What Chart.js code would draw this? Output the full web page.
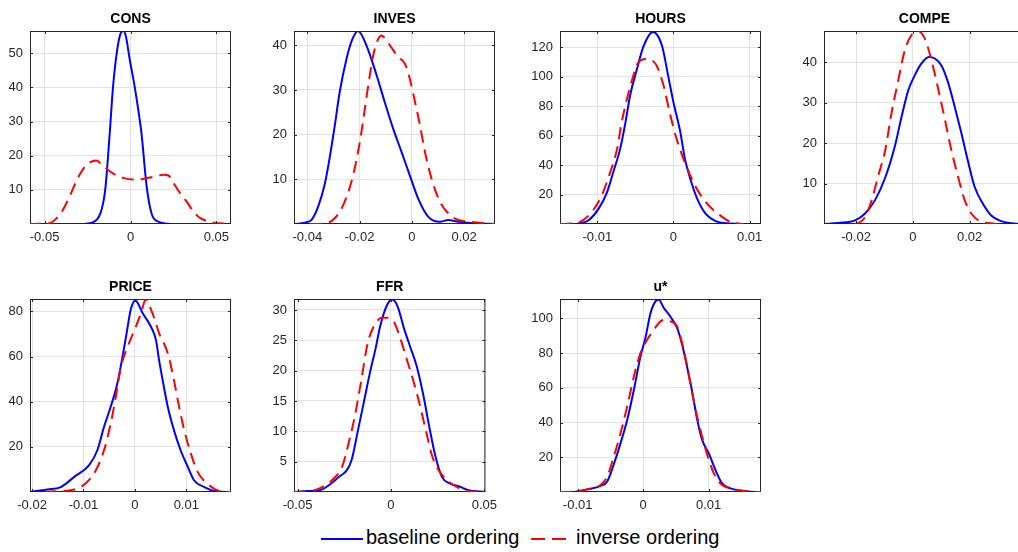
<!DOCTYPE html>
<html>
<head>
<meta charset="utf-8">
<script src="https://cdn.jsdelivr.net/npm/chart.js@4.4.1/dist/chart.umd.min.js"></script>
<style>
html,body{margin:0;padding:0;background:#fff;overflow:hidden;width:1018px;height:552px;position:relative;font-family:"Liberation Sans",Arial,Helvetica,sans-serif;}
.panel{position:absolute;}
.panel canvas{display:block;}
.lg-line{position:absolute;height:2px;}
.lg-text{position:absolute;font-size:20px;line-height:20px;color:#000;white-space:nowrap;}
</style>
</head>
<body>
<div id="legend">
  <div class="lg-line" style="left:321px;top:538px;width:42px;background:#0000ff;"></div>
  <span class="lg-text" id="lgBase" style="left:366px;top:527px;"></span>
  <div class="lg-line" style="left:531px;top:538px;width:14px;background:#ff0000;"></div>
  <div class="lg-line" style="left:552px;top:538px;width:14px;background:#ff0000;"></div>
  <span class="lg-text" id="lgInv" style="left:576px;top:527px;"></span>
</div>
<script>
// ---------------- DATA ----------------
const seriesNames = ['baseline ordering', 'inverse ordering'];
const titles = ['CONS', 'INVES', 'HOURS', 'COMPE', 'PRICE', 'FFR', 'u*'];

// CONS
const consBaseX = [-0.0277,-0.0219,-0.0180,-0.0156,-0.0145,-0.0121,-0.0102,-0.0078,-0.0059,-0.0043,-0.0027,-0.0004,0.0025,0.0045,0.0064,0.0094,0.0123,0.0162,0.0240];
const consBaseY = [0,0.5,2.5,7,11,26.5,40,50.8,55.6,56.5,55,48,40,33.5,26.5,11,3,0.7,0];
const consInvX = [-0.0592,-0.0473,-0.0434,-0.0395,-0.0355,-0.0316,-0.0277,-0.0238,-0.0199,-0.0160,-0.0102,-0.0043,0.0016,0.0074,0.0133,0.0191,0.0221,0.0250,0.0289,0.0328,0.0367,0.0406,0.0445,0.0484,0.0592];
const consInvY = [0,0.2,1.5,4,8,12.5,16,18,18.6,17,14.8,13.5,13,13.2,13.8,14.4,14.2,12,9,6.5,3.6,1.7,0.9,0.4,0];

// INVES
const invesBaseX = [-0.0450,-0.0409,-0.0383,-0.0358,-0.0333,-0.0314,-0.0295,-0.0276,-0.0250,-0.0228,-0.0206,-0.0174,-0.0135,-0.0104,-0.0072,-0.0040,-0.0008,0.0024,0.0063,0.0107,0.0139,0.0178,0.0222,0.0318];
const invesBaseY = [0,0.3,1,4,9,15,22,29.6,37,41.3,43.2,40,33.3,27.3,21.4,16.2,10.9,5.7,1.6,0.5,0.9,0.5,0.2,0];
const invesInvX = [-0.0390,-0.0340,-0.0295,-0.0257,-0.0225,-0.0199,-0.0180,-0.0161,-0.0148,-0.0132,-0.0116,-0.0100,-0.0084,-0.0053,-0.0027,-0.0008,0.0012,0.0031,0.0050,0.0075,0.0107,0.0146,0.0178,0.0222,0.0270,0.0318];
const invesInvY = [0,0.1,1.3,5,10.9,18.4,25.8,33.3,37.7,41,42.2,41.3,40,37.4,35.9,32.5,27.3,22.1,16.1,10.2,5,2,0.9,0.5,0.2,0];

// HOURS
const hoursBaseX = [-0.0129,-0.0120,-0.0111,-0.0098,-0.0087,-0.0079,-0.0070,-0.0063,-0.0057,-0.0048,-0.0039,-0.0027,-0.0015,-0.0007,0,0.0009,0.0015,0.0022,0.0031,0.0042,0.0057,0.0074,0.0090,0.0115];
const hoursBaseY = [0,0.8,2.7,10.6,21.8,35.3,51,69,87,105,121,130.4,121,100.7,82.6,62.4,44.4,30.9,17.4,7.2,1.6,0.3,0,0];
const hoursInvX = [-0.0149,-0.0135,-0.0122,-0.0107,-0.0094,-0.0083,-0.0074,-0.0068,-0.0061,-0.0054,-0.0046,-0.0035,-0.0028,-0.0022,-0.0013,-0.0004,0.0004,0.0013,0.0022,0.0033,0.0046,0.0061,0.0074,0.0085,0.0092];
const hoursInvY = [0,0.3,1.6,8.3,19.6,35.3,51,69,85,98.4,109.7,112,111,107.4,94,73.6,58,44.4,33,21.8,12.8,6,1.6,0.3,0];

// COMPE
const compeBaseX = [-0.0313,-0.0262,-0.02035,-0.01684,-0.01333,-0.00982,-0.00632,-0.00398,-0.00164,0.0007,0.00304,0.00561,0.00772,0.01006,0.0124,0.01474,0.01708,0.01942,0.02175,0.02468,0.0276,0.03111,0.03462,0.0381,0.0395];
const compeBaseY = [0,0.25,0.9,2.6,5.9,11.3,19.3,26.5,33,36.8,39.7,41.3,40.9,39.2,35,29,22.5,15.5,9.2,5,2.1,0.7,0.2,0,0];
const compeInvX = [-0.02035,-0.0186,-0.01684,-0.0145,-0.01216,-0.00982,-0.00749,-0.00515,-0.00281,-0.00047,0.00187,0.00421,0.00655,0.00889,0.01123,0.01357,0.01591,0.01825,0.02058,0.02351,0.02643,0.02994];
const compeInvY = [0,0.5,1.7,5.9,12,18,27.5,35.5,43,46.7,47.7,45.8,40.5,33.5,26,18.2,11.7,5.9,2.6,0.7,0.25,0];

// PRICE
const priceBaseX = [-0.0204,-0.0196,-0.0170,-0.0144,-0.0118,-0.0089,-0.0073,-0.0060,-0.0047,-0.0034,-0.0024,-0.0016,-0.0008,0.0001,0.0015,0.0031,0.0041,0.0047,0.0054,0.0064,0.0076,0.0089,0.0103,0.0115,0.0135,0.0158,0.0187];
const priceBaseY = [0,0.3,1.1,2.2,6.7,11.9,18.5,28.9,37.8,48.2,60,70.4,80.8,84.8,79.3,73.3,67.4,58.5,49.6,37.8,27.4,18.5,11.1,5.2,2.2,0.3,0];
const priceInvX = [-0.0176,-0.0157,-0.0118,-0.0095,-0.0076,-0.0060,-0.0047,-0.0037,-0.0027,-0.0014,0.0002,0.0012,0.0021,0.0034,0.0047,0.0064,0.0076,0.0086,0.0096,0.0109,0.0122,0.0141,0.0161,0.0187];
const priceInvY = [0,0.3,1.1,4,9.6,18.5,30.4,42.2,55.6,64.4,73.3,79.3,85.2,79.3,70.4,61.5,49.6,37.8,27.4,17,8.9,3.7,0.7,0];

// FFR
const ffrBaseX = [-0.0519,-0.04475,-0.03797,-0.03288,-0.0278,-0.02356,-0.02102,-0.01763,-0.01424,-0.01085,-0.00831,-0.00576,-0.00237,0.00068,0.00356,0.00695,0.01034,0.01373,0.01712,0.02051,0.0239,0.02729,0.03153,0.03661,0.04169,0.0506];
const ffrBaseY = [0,0.15,0.3,1.2,2.5,3.6,5.3,10.2,15.2,20.2,23.5,27.3,30.6,31.7,30.6,27,23.9,20.8,16.3,10.8,5.8,2.5,1.4,0.9,0.3,0];
const ffrInvX = [-0.0519,-0.04305,-0.03627,-0.03034,-0.0261,-0.02271,-0.01932,-0.01593,-0.01254,-0.00915,-0.00492,-0.00153,0.00186,0.00525,0.00864,0.01203,0.01542,0.01881,0.0222,0.02559,0.02983,0.03492,0.04,0.0506];
const ffrInvY = [0,0.15,0.9,2.3,4.2,8,12.5,18.3,24.4,27.3,28.7,28.7,27.9,25.1,21.7,18.3,14.4,10,5.8,3.6,2,0.9,0.2,0];

// u*
const ustarBaseX = [-0.01059,-0.00855,-0.00651,-0.0055,-0.00448,-0.00346,-0.00244,-0.00142,-0.00041,0.00036,0.00112,0.00188,0.00239,0.00316,0.00417,0.00519,0.00595,0.00672,0.00748,0.00824,0.00901,0.01003,0.01104,0.01206,0.01333,0.01486,0.01639,0.01715];
const ustarBaseY = [0,1.5,3.5,6,16,28,41.5,58.8,78,89,103,109.8,110.8,106,101,94.4,85,72,58,42,30,22.3,12.7,5,2.1,0.8,0.2,0];
const ustarInvX = [-0.0127,-0.01008,-0.00804,-0.00651,-0.0055,-0.00448,-0.00346,-0.00244,-0.00142,-0.00041,0.00061,0.00163,0.00265,0.00341,0.00417,0.00519,0.00595,0.00672,0.00748,0.00824,0.00901,0.01003,0.01104,0.01206,0.01333,0.01486,0.018];
const ustarInvY = [0,0.4,2.1,4,8.8,20.4,33.8,49.2,66.5,80,87.7,93.5,98.3,99.2,98.3,95.4,85.8,72.3,57,43.5,31.9,18.5,8.8,4,2.1,0.8,0];

// axis limits and ticks
const xLimits = [[-0.0585,0.0585],[-0.0451,0.0318],[-0.0149,0.0115],[-0.0313,0.0395],[-0.0204,0.0187],[-0.0519,0.0506],[-0.0127,0.018]];
const yLimits = [[0,56.5],[0,43.2],[0,131],[0,47.7],[0,85.5],[0,31.8],[0,111.2]];
const xTickValues = [[-0.05,0,0.05],[-0.04,-0.02,0,0.02],[-0.01,0,0.01],[-0.02,0,0.02],[-0.02,-0.01,0,0.01],[-0.05,0,0.05],[-0.01,0,0.01]];
const xTickLabels = [['-0.05','0','0.05'],['-0.04','-0.02','0','0.02'],['-0.01','0','0.01'],['-0.02','0','0.02'],['-0.02','-0.01','0','0.01'],['-0.05','0','0.05'],['-0.01','0','0.01']];
const yTickValues = [[10,20,30,40,50],[10,20,30,40],[20,40,60,80,100,120],[10,20,30,40],[20,40,60,80],[5,10,15,20,25,30],[20,40,60,80,100]];

const baseXs = [consBaseX, invesBaseX, hoursBaseX, compeBaseX, priceBaseX, ffrBaseX, ustarBaseX];
const baseYs = [consBaseY, invesBaseY, hoursBaseY, compeBaseY, priceBaseY, ffrBaseY, ustarBaseY];
const invXs = [consInvX, invesInvX, hoursInvX, compeInvX, priceInvX, ffrInvX, ustarInvX];
const invYs = [consInvY, invesInvY, hoursInvY, compeInvY, priceInvY, ffrInvY, ustarInvY];

// ---------------- LAYOUT ----------------
const boxPos = [[30,31],[294,31],[560,31],[824,31],[30,299],[294,299],[560,299]];
const BOX_W = 201, BOX_H = 193;
const PAD_L = 50, PAD_T = 30, PAD_R = 8, PAD_B = 26;
const FONT = '"Liberation Sans", Arial, Helvetica, sans-serif';
const AXIS_COLOR = '#262626';

document.getElementById('lgBase').textContent = seriesNames[0];
document.getElementById('lgInv').textContent = seriesNames[1];

Chart.defaults.font.family = FONT;

const deco = {
  id: 'deco',
  beforeDatasetsDraw(chart) {
    const {ctx, chartArea: a} = chart;
    ctx.save();
    ctx.strokeStyle = AXIS_COLOR;
    ctx.lineWidth = 1;
    ctx.strokeRect(a.left + 0.5, a.top + 0.5, a.right - a.left - 1, a.bottom - a.top - 1);
    ctx.restore();
  },
  afterDraw(chart, args, opts) {
    const {ctx, chartArea: a} = chart;
    const xs = chart.scales.x, ys = chart.scales.y;
    ctx.save();
    ctx.strokeStyle = AXIS_COLOR;
    ctx.lineWidth = 1;
    ctx.beginPath();
    xs.ticks.forEach(t => {
      const p = Math.round(xs.getPixelForValue(t.value)) + 0.5;
      ctx.moveTo(p, a.bottom); ctx.lineTo(p, a.bottom - 3);
      ctx.moveTo(p, a.top); ctx.lineTo(p, a.top + 3);
    });
    ys.ticks.forEach(t => {
      const p = Math.round(ys.getPixelForValue(t.value)) + 0.5;
      ctx.moveTo(a.left, p); ctx.lineTo(a.left + 3, p);
      ctx.moveTo(a.right, p); ctx.lineTo(a.right - 3, p);
    });
    ctx.stroke();
    ctx.fillStyle = '#000';
    ctx.font = 'bold 14px ' + FONT;
    ctx.textAlign = 'center';
    ctx.textBaseline = 'alphabetic';
    ctx.fillText(opts.title, (a.left + a.right) / 2, a.top - 8);
    ctx.restore();
  }
};

function pts(xs, ys) { return xs.map((x, i) => ({x: x, y: ys[i]})); }

titles.forEach((title, i) => {
  const div = document.createElement('div');
  div.className = 'panel';
  const W = PAD_L + BOX_W + PAD_R, H = PAD_T + BOX_H + PAD_B;
  div.style.left = (boxPos[i][0] - PAD_L) + 'px';
  div.style.top = (boxPos[i][1] - PAD_T) + 'px';
  div.style.width = W + 'px';
  div.style.height = H + 'px';
  const cv = document.createElement('canvas');
  div.appendChild(cv);
  document.body.appendChild(div);

  new Chart(cv, {
    type: 'line',
    data: {
      datasets: [
        {
          label: seriesNames[0],
          data: pts(baseXs[i], baseYs[i]),
          borderColor: '#0000ff',
          borderWidth: 2,
          pointRadius: 0,
          cubicInterpolationMode: 'monotone',
          fill: false,
          order: 2
        },
        {
          label: seriesNames[1],
          data: pts(invXs[i], invYs[i]),
          borderColor: '#ff0000',
          borderWidth: 2,
          borderDash: [12, 7],
          pointRadius: 0,
          cubicInterpolationMode: 'monotone',
          fill: false,
          order: 1
        }
      ]
    },
    options: {
      responsive: true,
      maintainAspectRatio: false,
      animation: false,
      devicePixelRatio: 1,
      layout: {padding: {left: 0, top: PAD_T, right: PAD_R, bottom: 0}},
      plugins: {
        legend: {display: false},
        tooltip: {enabled: false},
        deco: {title: title}
      },
      scales: {
        x: {
          type: 'linear',
          min: xLimits[i][0],
          max: xLimits[i][1],
          afterBuildTicks: s => { s.ticks = xTickValues[i].map(v => ({value: v})); },
          afterFit: s => { s.height = PAD_B; },
          grid: {color: '#e2e2e2', lineWidth: 1, drawTicks: false},
          border: {display: false},
          ticks: {
            color: AXIS_COLOR,
            font: {size: 13},
            padding: 6,
            maxRotation: 0,
            autoSkip: false,
            callback: (v, idx) => xTickLabels[i][idx]
          }
        },
        y: {
          type: 'linear',
          min: yLimits[i][0],
          max: yLimits[i][1],
          afterBuildTicks: s => { s.ticks = yTickValues[i].map(v => ({value: v})); },
          afterFit: s => { s.width = PAD_L; },
          grid: {color: '#e2e2e2', lineWidth: 1, drawTicks: false},
          border: {display: false},
          ticks: {
            color: AXIS_COLOR,
            font: {size: 13},
            padding: 7,
            autoSkip: false,
            callback: v => String(v)
          }
        }
      }
    },
    plugins: [deco]
  });
});
</script>
</body>
</html>
